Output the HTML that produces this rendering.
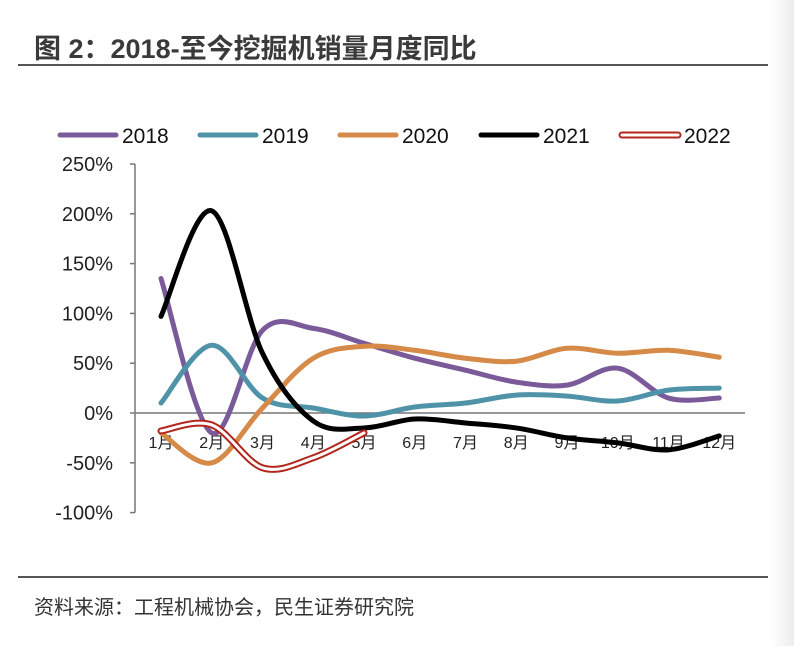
<!DOCTYPE html>
<html><head><meta charset="utf-8"><style>
body{margin:0;background:#fff;width:794px;height:646px;overflow:hidden;font-family:"Liberation Sans","Noto Sans CJK SC",sans-serif;}
#title{position:absolute;left:34px;top:27px;font-size:27px;font-weight:bold;color:#3a3a3a;}
#src{position:absolute;left:34px;top:591px;font-size:20px;color:#333;}
.rule{position:absolute;left:18px;width:750px;height:2px;background:#555;}
#shade{position:absolute;left:772px;top:0;width:22px;height:646px;background:linear-gradient(to right,#fff,#ececec);}
svg{position:absolute;left:0;top:0;}
</style></head><body>
<div id="shade"></div>
<div id="title">图 2：2018-至今挖掘机销量月度同比</div>
<div class="rule" style="top:64px"></div>
<div class="rule" style="top:576px"></div>
<div id="src">资料来源：工程机械协会，民生证券研究院</div>
<svg id="chart" width="794" height="646"></svg>
<script>
const categories=["1月","2月","3月","4月","5月","6月","7月","8月","9月","10月","11月","12月"];
const yTicks=[250,200,150,100,50,0,-50,-100];
const seriesNames=["2018","2019","2020","2021","2022"];
const s2018=[135,-20,83,85,70,55,43,31,28,45,15,15];
const s2019=[10,68,15,5,-3,6,10,18,17,12,23,25];
const s2020=[-20,-50,5,55,67,63,55,52,65,60,63,56];
const s2021=[97,203,60,-8,-15,-6,-10,-15,-25,-30,-37,-23];
const s2022=[-18,-12,-55,-45,-20];
const colors=["#7b5a9a","#4f93a8","#d58a47","#000000","#b3261e"];
const NS="http://www.w3.org/2000/svg";
const svg=document.getElementById('chart');
const x=i=>161+i*50.75;
const y=v=>413-v*0.996;
function mk(t,a){const e=document.createElementNS(NS,t);for(const k in a)e.setAttribute(k,a[k]);svg.appendChild(e);return e;}
let ax=mk('line',{x1:135,y1:y(250),x2:135,y2:y(-100),stroke:'#777','stroke-width':1.5});


yTicks.forEach(t=>{
 const l=mk('line',{x1:130,x2:135,y1:y(t),y2:y(t),stroke:'#777','stroke-width':1.5});
 
 
 const tx=mk('text',{x:113,y:y(t)+7,'text-anchor':'end','font-size':20,fill:'#222'});
 tx.textContent=t+'%';
 
 
});
let xa=mk('line',{x1:135,y1:y(0),x2:745,y2:y(0),stroke:'#777','stroke-width':1.5});


categories.forEach((c,i)=>{
 const tx=mk('text',{x:x(i),y:448,'text-anchor':'middle','font-size':16,fill:'#222'});
 tx.textContent=c;
 
 
});
function path(vals){
 const p=vals.map((v,i)=>[x(i),y(v)]);
 let d='M'+p[0][0]+','+p[0][1];
 for(let i=0;i<p.length-1;i++){
  const p0=p[i-1]||p[i],p1=p[i],p2=p[i+1],p3=p[i+2]||p2;
  const c1=[p1[0]+(p2[0]-p0[0])/6,p1[1]+(p2[1]-p0[1])/6];
  const c2=[p2[0]-(p3[0]-p1[0])/6,p2[1]-(p3[1]-p1[1])/6];
  d+=' C'+c1+' '+c2+' '+p2;
 }
 return d;
}
const all=[s2018,s2019,s2020,s2021,s2022];
all.forEach((s,k)=>{
 if(k<4){
  const e=mk('path',{d:path(s),fill:'none',stroke:colors[k],'stroke-width':5,'stroke-linecap':'round'});
  
  
 }else{
  const e=mk('path',{d:path(s),fill:'none',stroke:colors[k],'stroke-width':7,'stroke-linecap':'round'});
  
  
  const e2=mk('path',{d:path(s),fill:'none',stroke:'#fff','stroke-width':3,'stroke-linecap':'round'});
  
  
 }
});
const lx=[60,200,340,481,622];
seriesNames.forEach((n,k)=>{
 const g=mk('g',{});
 
 
 const l=document.createElementNS(NS,'line');
 [['x1',lx[k]],['x2',lx[k]+56],['y1',135],['y2',135],['stroke',colors[k]],['stroke-width',k==4?7:5],['stroke-linecap','round']].forEach(a=>l.setAttribute(a[0],a[1]));
 g.appendChild(l);
 if(k==4){const l2=l.cloneNode();l2.setAttribute('stroke','#fff');l2.setAttribute('stroke-width',3);g.appendChild(l2);}
 const t=document.createElementNS(NS,'text');
 t.setAttribute('x',lx[k]+62);t.setAttribute('y',143);t.setAttribute('font-size',21);t.setAttribute('fill','#111');
 t.textContent=n;g.appendChild(t);
});
</script>
</body></html>
